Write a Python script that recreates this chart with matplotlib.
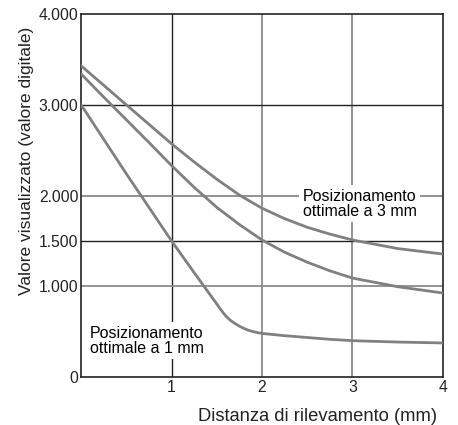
import matplotlib.pyplot as plt

plt.rcParams["font.family"] = ["Liberation Sans", "DejaVu Sans"]

# distance (mm) and displayed value for the three optimal-positioning curves
x_a = [0, 0.25, 0.5, 0.75, 1, 1.25, 1.5, 1.75, 2, 2.25, 2.5, 2.75, 3, 3.5, 4]
val_a = [3430, 3215, 3000, 2785, 2570, 2370, 2180, 2005, 1860, 1745, 1650, 1575, 1510, 1415, 1355]

x_b = [0, 0.25, 0.5, 0.75, 1, 1.25, 1.5, 1.75, 2, 2.25, 2.5, 2.75, 3, 3.5, 4]
val_b = [3340, 3085, 2835, 2585, 2330, 2090, 1870, 1680, 1510, 1375, 1265, 1170, 1090, 995, 925]

x_c = [0, 0.25, 0.5, 0.75, 1, 1.25, 1.5, 1.55, 1.6, 1.65, 1.7, 1.75, 1.8, 1.85,
       1.9, 1.95, 2, 2.25, 2.5, 2.75, 3, 3.5, 4]
val_c = [3000, 2620, 2240, 1870, 1500, 1150, 805, 735, 672, 625, 590, 560, 535, 515,
         500, 489, 480, 455, 435, 415, 400, 385, 375]

x_ticks = [1, 2, 3, 4]
y_ticks = [0, 1000, 1500, 2000, 3000, 4000]
y_tick_labels = ["0", "1.000", "1.500", "2.000", "3.000", "4.000"]

dark_grid_x = [1]
gray_grid_x = [2, 3]
dark_grid_y = [1500, 3000]
gray_grid_y = [1000, 2000]

fig = plt.figure(figsize=(4.58, 4.25), dpi=100)
ax = fig.add_axes([0.177, 0.113, 0.790, 0.854])

for gx in dark_grid_x:
    ax.axvline(gx, color="#222222", lw=1.0, zorder=1)
for gx in gray_grid_x:
    ax.axvline(gx, color="#8a8a8a", lw=1.3, zorder=1)
for gy in dark_grid_y:
    ax.axhline(gy, color="#222222", lw=1.0, zorder=1)
for gy in gray_grid_y:
    ax.axhline(gy, color="#8a8a8a", lw=1.3, zorder=1)

line_kw = dict(color="#808080", lw=2.0, solid_joinstyle="round", zorder=3)
ax.plot(x_a, val_a, **line_kw)
ax.plot(x_b, val_b, **line_kw)
ax.plot(x_c, val_c, **line_kw)

box = dict(facecolor="white", edgecolor="none", pad=2.5)
ax.text(2.45, 1910, "Posizionamento\nottimale a 3 mm", fontsize=11.5, ha="left",
        va="center", linespacing=1.0, bbox=box, zorder=2)
ax.text(0.1, 400, "Posizionamento\nottimale a 1 mm", fontsize=11.5, ha="left",
        va="center", linespacing=1.0, bbox=box, zorder=2)

ax.set_xlim(0, 4)
ax.set_ylim(0, 4000)
ax.set_xticks(x_ticks)
ax.set_yticks(y_ticks)
ax.set_yticklabels(y_tick_labels)
ax.tick_params(length=0, labelsize=11.3, colors="#222222", pad=2)
for s in ax.spines.values():
    s.set_color("#222222")
    s.set_linewidth(1.2)

fig.text(0.955, 0.021, "Distanza di rilevamento (mm)", fontsize=13.2, ha="right",
         va="center", color="#222222")
fig.text(0.058, 0.621, "Valore visualizzato (valore digitale)", fontsize=12.5,
         rotation=90, ha="center", va="center", color="#222222")

fig.savefig("out.png", dpi=100)
